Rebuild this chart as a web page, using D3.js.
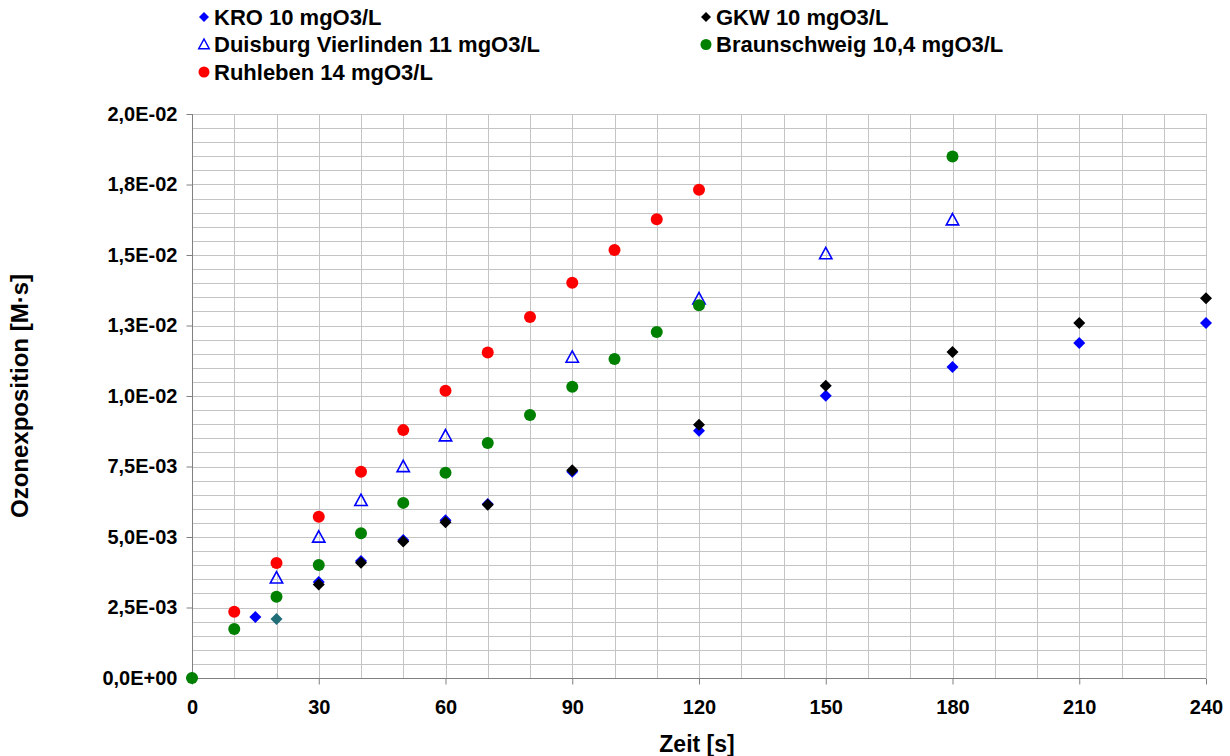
<!DOCTYPE html>
<html><head><meta charset="utf-8">
<script src="https://cdn.jsdelivr.net/npm/d3@7"></script>
<style>
html,body{margin:0;padding:0;background:#fff;}
svg{display:block;font-family:"Liberation Sans",Arial,sans-serif;}
</style></head><body>
<svg id="c" width="1230" height="756"></svg>
<script>
// ---- data ----
const kroT   = [15, 20, 30, 40, 50, 60, 70, 90, 120, 150, 180, 210, 240];
const kroV   = [0.00216, 0.00209, 0.00340, 0.00415, 0.00489, 0.00559, 0.00617, 0.00731, 0.00877, 0.01001, 0.01103, 0.01188, 0.01259];
const gkwT   = [0, 30, 40, 50, 60, 70, 90, 120, 150, 180, 210, 240];
const gkwV   = [0, 0.00332, 0.00409, 0.00484, 0.00552, 0.00614, 0.00737, 0.00898, 0.01036, 0.01156, 0.01259, 0.01347];
const duiT   = [20, 30, 40, 50, 60, 90, 120, 150, 180];
const duiV   = [0.00354, 0.00499, 0.00629, 0.00749, 0.00858, 0.01137, 0.01344, 0.01504, 0.01624];
const brsT   = [0, 10, 20, 30, 40, 50, 60, 70, 80, 90, 100, 110, 120, 180];
const brsV   = [0, 0.00174, 0.00288, 0.00401, 0.00513, 0.00621, 0.00728, 0.00833, 0.00933, 0.01033, 0.01131, 0.01227, 0.01322, 0.01849];
const ruhT   = [10, 20, 30, 40, 50, 60, 70, 80, 90, 100, 110, 120];
const ruhV   = [0.00235, 0.00408, 0.00572, 0.00731, 0.00879, 0.01019, 0.01154, 0.01280, 0.01402, 0.01518, 0.01627, 0.01731];
const seriesNames = ["KRO 10 mgO3/L", "GKW 10 mgO3/L", "Duisburg Vierlinden 11 mgO3/L", "Braunschweig 10,4 mgO3/L", "Ruhleben 14 mgO3/L"];
const xTicks = [0, 30, 60, 90, 120, 150, 180, 210, 240];
const yTicks = [0, 0.0025, 0.005, 0.0075, 0.01, 0.0125, 0.015, 0.0175, 0.02];
const yTickLabels = ["0,0E+00", "2,5E-03", "5,0E-03", "7,5E-03", "1,0E-02", "1,3E-02", "1,5E-02", "1,8E-02", "2,0E-02"];
const xTitle = "Zeit [s]";
const yTitle = "Ozonexposition [M·s]";

// ---- layout ----
const svg = d3.select("#c");
const L = 192, R = 1206, T = 114, B = 678;
const x = d3.scaleLinear().domain([0, 240]).range([L, R]);
const y = d3.scaleLinear().domain([0, 0.02]).range([B, T]);

// grid
const g = svg.append("g");
g.selectAll("line.vg").data(d3.range(10, 241, 10)).join("line")
  .attr("x1", d => Math.round(x(d)) + 0.5).attr("x2", d => Math.round(x(d)) + 0.5)
  .attr("y1", T).attr("y2", B).attr("stroke", "#c4c4c4").attr("stroke-width", 1);
g.selectAll("line.hg").data(d3.range(1, 41).map(i => i * 0.0005)).join("line")
  .attr("y1", d => Math.round(y(d)) + 0.5).attr("y2", d => Math.round(y(d)) + 0.5)
  .attr("x1", L).attr("x2", R).attr("stroke", "#c4c4c4").attr("stroke-width", 1);

// axes
const xAxis = d3.axisBottom(x).tickValues(xTicks).tickSize(6).tickPadding(15).tickFormat(d3.format("d"));
const yAxis = d3.axisLeft(y).tickValues(yTicks).tickSize(6).tickPadding(9).tickFormat((d, i) => yTickLabels[i]);
const ax = svg.append("g").attr("transform", `translate(0,${B + 0.5})`).call(xAxis);
const ay = svg.append("g").attr("transform", `translate(${L + 0.5},0)`).call(yAxis);
[ax, ay].forEach(a => {
  a.select(".domain").attr("stroke", "#808080");
  a.selectAll(".tick line").attr("stroke", "#808080");
  a.selectAll("text").attr("fill", "#000").style("font-size", "20px").style("font-weight", "bold")
   .style("font-family", "'Liberation Sans', Arial, sans-serif");
});
ax.select(".domain").attr("d", `M${L},0H${R}`);
ay.select(".domain").attr("d", `M0,${T}V${B}`);

// titles
svg.append("text").attr("x", 697).attr("y", 752).attr("text-anchor", "middle")
  .style("font-size", "23px").style("font-weight", "bold").text(xTitle);
svg.append("text").attr("transform", `translate(28,${(T + B) / 2}) rotate(-90)`).attr("text-anchor", "middle")
  .style("font-size", "24px").style("font-weight", "bold").text(yTitle);

// markers
const diamond = s => `M0,${-s}L${s},0L0,${s}L${-s},0Z`;
const triPath = s => `M0,${-s}L${s*0.95},${s*0.75}L${-s*0.95},${s*0.75}Z`;
function drawSeries(ts, vs, kind, color, extra) {
  const gg = svg.append("g");
  ts.forEach((t, i) => {
    const cx = x(t), cy = y(vs[i]);
    if (kind === "diamond") {
      gg.append("path").attr("d", diamond(6)).attr("transform", `translate(${cx},${cy})`)
        .attr("fill", extra && extra(t) ? extra(t) : color);
    } else if (kind === "circle") {
      gg.append("circle").attr("cx", cx).attr("cy", cy).attr("r", 6).attr("fill", color);
    } else {
      gg.append("path").attr("d", triPath(6.5)).attr("transform", `translate(${cx},${cy})`)
        .attr("fill", "none").attr("stroke", color).attr("stroke-width", 1.6);
    }
  });
}
drawSeries(kroT, kroV, "diamond", "#0000ff", t => t === 20 ? "#1f6e78" : null);
drawSeries(gkwT, gkwV, "diamond", "#000000");
drawSeries(duiT, duiV, "triangle", "#0000ff");
drawSeries(brsT, brsV, "circle", "#008000");
drawSeries(ruhT, ruhV, "circle", "#ff0000");

// legend
const legendItems = [
  {name: seriesNames[0], kind: "diamond", color: "#0000ff", col: 0, row: 0},
  {name: seriesNames[1], kind: "diamond", color: "#000000", col: 1, row: 0},
  {name: seriesNames[2], kind: "triangle", color: "#0000ff", col: 0, row: 1},
  {name: seriesNames[3], kind: "circle", color: "#008000", col: 1, row: 1},
  {name: seriesNames[4], kind: "circle", color: "#ff0000", col: 0, row: 2}
];
const lg = svg.append("g");
legendItems.forEach(it => {
  const mx = it.col === 0 ? 204 : 706;
  const my = 17 + it.row * 27.5;
  if (it.kind === "diamond") lg.append("path").attr("d", diamond(5)).attr("transform", `translate(${mx},${my})`).attr("fill", it.color);
  else if (it.kind === "circle") lg.append("circle").attr("cx", mx).attr("cy", my).attr("r", 5.5).attr("fill", it.color);
  else lg.append("path").attr("d", triPath(5.5)).attr("transform", `translate(${mx},${my})`).attr("fill", "none").attr("stroke", it.color).attr("stroke-width", 1.5);
  lg.append("text").attr("x", mx + 10).attr("y", my).attr("dy", "0.36em")
    .style("font-size", "22px").style("font-weight", "bold").text(it.name);
});
</script></body></html>
